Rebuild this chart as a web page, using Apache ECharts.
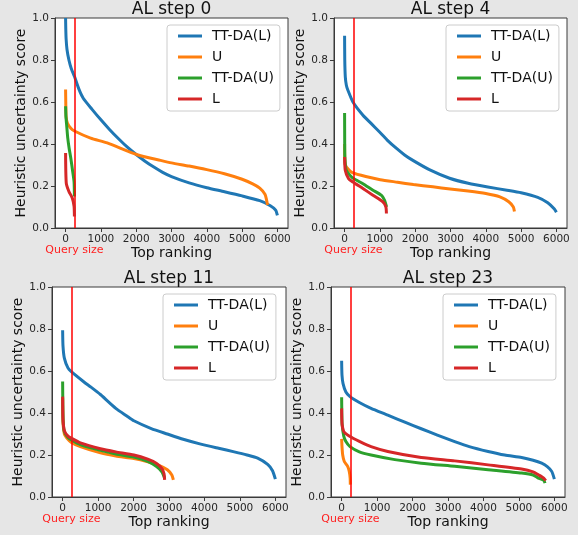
<!DOCTYPE html>
<html>
<head>
<meta charset="utf-8">
<script src="https://cdn.jsdelivr.net/npm/echarts@6/dist/echarts.min.js"></script>
<style>
html,body{margin:0;padding:0;background:#e6e6e6;}
#c{width:578px;height:535px;}
</style>
</head>
<body>
<div id="c"></div>
<script>
// ---- data ----
var stepTitles = ['AL step 0', 'AL step 4', 'AL step 11', 'AL step 23'];
var seriesNames = ['TT-DA(L)', 'U', 'TT-DA(U)', 'L'];
var xTicks = [0, 1000, 2000, 3000, 4000, 5000, 6000];
var yTicks = [0, 0.2, 0.4, 0.6, 0.8, 1.0];
var querySize = 250;

// AL step 0  ([rank, score])
var s0_TTDA_L = [[0,1.0],[5,0.95],[15,0.9],[40,0.85],[94,0.8],[160,0.76],[255,0.72],[380,0.66],[500,0.618],[750,0.565],[1000,0.515],[1250,0.468],[1500,0.425],[1750,0.385],[2000,0.35],[2250,0.318],[2500,0.29],[2750,0.265],[3000,0.245],[3500,0.215],[4000,0.192],[4500,0.173],[5000,0.153],[5500,0.13],[5800,0.106],[5950,0.085],[6000,0.06]];
var s0_U = [[0,0.66],[5,0.6],[15,0.53],[50,0.5],[142,0.476],[236,0.463],[708,0.428],[1180,0.405],[2030,0.349],[2690,0.322],[3000,0.31],[3500,0.295],[4000,0.278],[4500,0.258],[5000,0.232],[5300,0.21],[5500,0.19],[5650,0.16],[5720,0.11]];
var s0_TTDA_U = [[0,0.58],[10,0.53],[30,0.49],[60,0.43],[100,0.38],[150,0.33],[200,0.27],[240,0.22],[250,0.15]];
var s0_L = [[0,0.357],[19,0.214],[94,0.174],[189,0.143],[240,0.103],[250,0.055]];

// AL step 4
var s4_TTDA_L = [[0,0.915],[5,0.8],[20,0.72],[50,0.68],[94,0.656],[236,0.6],[520,0.537],[750,0.498],[991,0.457],[1200,0.42],[1463,0.38],[1700,0.348],[1935,0.322],[2400,0.278],[2973,0.237],[3500,0.213],[4057,0.195],[4600,0.18],[5000,0.168],[5472,0.146],[5755,0.12],[5943,0.09],[6000,0.075]];
var s4_U = [[0,0.40],[5,0.33],[20,0.3],[113,0.278],[236,0.262],[600,0.245],[1010,0.23],[1500,0.218],[1950,0.207],[2500,0.196],[2990,0.186],[3500,0.176],[4000,0.164],[4400,0.148],[4650,0.125],[4780,0.1],[4811,0.079]];
var s4_TTDA_U = [[0,0.548],[3,0.42],[8,0.338],[47,0.275],[217,0.24],[520,0.211],[803,0.18],[1038,0.156],[1133,0.132],[1190,0.1]];
var s4_L = [[0,0.338],[19,0.275],[113,0.235],[236,0.219],[520,0.188],[803,0.156],[1085,0.124],[1170,0.1],[1185,0.069]];

// AL step 11
var s11_TTDA_L = [[0,0.794],[10,0.72],[50,0.66],[150,0.615],[245,0.597],[594,0.549],[800,0.523],[1066,0.488],[1300,0.452],[1538,0.417],[1800,0.387],[2009,0.363],[2500,0.326],[2953,0.3],[3400,0.275],[3896,0.252],[4400,0.232],[4840,0.215],[5200,0.2],[5500,0.185],[5783,0.155],[5920,0.125],[6000,0.085]];
var s11_U = [[0,0.47],[10,0.36],[50,0.3],[150,0.275],[245,0.26],[500,0.24],[1066,0.21],[1500,0.195],[2009,0.183],[2400,0.168],[2700,0.152],[2953,0.13],[3080,0.105],[3123,0.082]];
var s11_TTDA_U = [[0,0.55],[5,0.45],[15,0.36],[50,0.31],[150,0.283],[245,0.272],[500,0.25],[1066,0.222],[1500,0.205],[2009,0.19],[2400,0.17],[2650,0.145],[2800,0.12],[2877,0.09]];
var s11_L = [[0,0.478],[10,0.37],[50,0.315],[150,0.29],[245,0.28],[500,0.258],[1066,0.23],[1500,0.215],[2009,0.2],[2400,0.18],[2650,0.16],[2800,0.135],[2860,0.11],[2877,0.082]];

// AL step 23
var s23_TTDA_L = [[0,0.649],[10,0.58],[40,0.54],[120,0.5],[236,0.478],[500,0.45],[830,0.422],[1302,0.39],[1800,0.355],[2245,0.325],[2700,0.295],[3189,0.264],[3600,0.24],[4132,0.217],[4600,0.2],[5075,0.188],[5400,0.175],[5642,0.161],[5800,0.145],[5925,0.122],[6000,0.085]];
var s23_U = [[0,0.277],[10,0.24],[30,0.2],[75,0.169],[170,0.146],[215,0.122],[240,0.09],[245,0.059]];
var s23_TTDA_U = [[0,0.475],[5,0.4],[15,0.343],[60,0.29],[120,0.264],[236,0.24],[500,0.215],[830,0.2],[1500,0.178],[2245,0.161],[3189,0.146],[4132,0.13],[5075,0.114],[5400,0.105],[5547,0.09],[5700,0.08],[5736,0.066]];
var s23_L = [[0,0.422],[5,0.37],[15,0.343],[60,0.312],[236,0.288],[500,0.265],[830,0.24],[1302,0.217],[2245,0.188],[3189,0.172],[4132,0.153],[5075,0.133],[5400,0.12],[5547,0.106],[5700,0.09],[5755,0.078]];

var stepData = [
  [s0_TTDA_L, s0_U, s0_TTDA_U, s0_L],
  [s4_TTDA_L, s4_U, s4_TTDA_U, s4_L],
  [s11_TTDA_L, s11_U, s11_TTDA_U, s11_L],
  [s23_TTDA_L, s23_U, s23_TTDA_U, s23_L]
];

// ---- layout / style ----
var colors = ['#1f77b4', '#ff7f0e', '#2ca02c', '#d62728'];
var FONT = 'DejaVu Sans';
var grids = [
  {left: 55, top: 18, width: 233, height: 210},
  {left: 334, top: 18, width: 233, height: 210},
  {left: 52, top: 287, width: 234, height: 210},
  {left: 331, top: 287, width: 234, height: 210}
];
var legendPos = [[167, 25], [446, 25], [163, 294], [443, 294]];
var titleTop = [1, 270];

var chart = echarts.init(document.getElementById('c'), null, {renderer: 'canvas'});

var option = {
  backgroundColor: '#e6e6e6',
  animation: false,
  textStyle: {fontFamily: FONT},
  title: [],
  legend: [],
  grid: [],
  xAxis: [],
  yAxis: [],
  series: []
};

var spine = '#3a3a3a';
var tickLabel = '#262626';

grids.forEach(function (g, k) {
  option.grid.push({
    left: g.left, top: g.top, width: g.width, height: g.height,
    show: true, backgroundColor: '#ffffff', borderColor: spine, borderWidth: 1
  });
  option.title.push({
    text: stepTitles[k],
    left: g.left + g.width / 2,
    textAlign: 'center',
    top: titleTop[k < 2 ? 0 : 1],
    padding: 0,
    textStyle: {fontFamily: FONT, fontSize: 17, fontWeight: 'normal', color: '#111'}
  });
  option.legend.push({
    orient: 'vertical',
    left: legendPos[k][0], top: legendPos[k][1],
    data: seriesNames.slice(),
    icon: 'rect',
    itemWidth: 24, itemHeight: 3,
    itemGap: 7,
    padding: [4, 6, 5, 11],
    backgroundColor: 'rgba(255,255,255,0.85)',
    borderColor: '#cccccc', borderWidth: 1, borderRadius: 3,
    selectedMode: false,
    textStyle: {fontFamily: FONT, fontSize: 14, color: '#111', padding: [0, 0, 0, 5]}
  });
  option.xAxis.push({
    type: 'value', gridIndex: k,
    min: -300, max: 6300,
    name: 'Top ranking', nameLocation: 'middle', nameGap: 18,
    nameTextStyle: {fontFamily: FONT, fontSize: 14, color: '#111'},
    axisLine: {show: true, onZero: false, lineStyle: {color: spine, width: 1}},
    axisTick: {show: true, length: 4, inside: false, customValues: xTicks, lineStyle: {color: spine}},
    axisLabel: {show: true, customValues: xTicks, margin: 6, fontFamily: FONT, fontSize: 10.5, color: tickLabel,
      formatter: function (v) { return String(v); }},
    splitLine: {show: false}
  });
  option.yAxis.push({
    type: 'value', gridIndex: k,
    min: 0, max: 1, interval: 0.2,
    name: 'Heuristic uncertainty score', nameLocation: 'middle', nameGap: 26,
    nameTextStyle: {fontFamily: FONT, fontSize: 14, color: '#111'},
    axisLine: {show: true, onZero: false, lineStyle: {color: spine, width: 1}},
    axisTick: {show: true, length: 4, lineStyle: {color: spine}},
    axisLabel: {show: true, margin: 6, fontFamily: FONT, fontSize: 10.5, color: tickLabel,
      formatter: function (v) { return v.toFixed(1); }},
    splitLine: {show: false}
  });
  stepData[k].forEach(function (arr, i) {
    var s = {
      type: 'line', name: seriesNames[i],
      xAxisIndex: k, yAxisIndex: k,
      data: arr, symbol: 'none', showSymbol: false, smooth: 0.2,
      color: colors[i],
      lineStyle: {color: colors[i], width: 3, cap: 'butt', join: 'round'},
      z: 2 + i
    };
    if (i === 3) {
      s.markLine = {
        silent: true, symbol: ['none', 'none'],
        label: {show: false},
        lineStyle: {color: '#ff0000', width: 1.5, type: 'solid'},
        data: [{xAxis: querySize}],
        animation: false
      };
    }
    option.series.push(s);
  });
});

chart.setOption(option);

// "Query size" captions under each panel, anchored on the query line position
var graphics = [];
grids.forEach(function (g, k) {
  var px = chart.convertToPixel({xAxisIndex: k}, querySize);
  graphics.push({
    type: 'text',
    x: px, y: g.top + g.height + 22,
    style: {text: 'Query size', fill: '#ff2020', font: '11px "DejaVu Sans"', textAlign: 'center', textVerticalAlign: 'middle'}
  });
});
chart.setOption({graphic: graphics});
</script>
</body>
</html>
